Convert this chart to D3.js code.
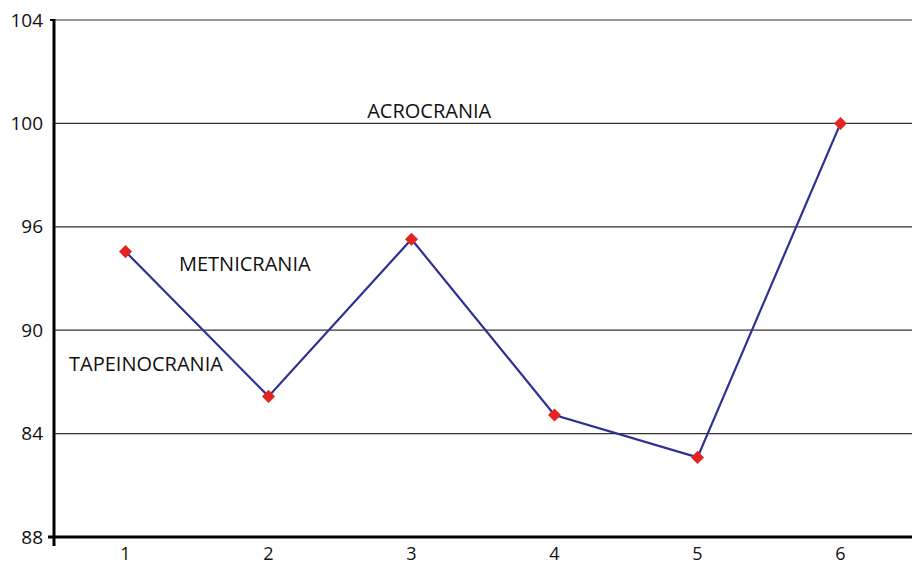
<!DOCTYPE html>
<html><head><meta charset="utf-8">
<script src="https://cdn.jsdelivr.net/npm/d3@7"></script>
<style>body{margin:0;background:#fff}text{font-family:"Open Sans","Noto Sans",sans-serif}</style>
</head><body><svg id="c" width="912" height="565"></svg>
<script>
const categories = ["1","2","3","4","5","6"];
// values expressed in gridline units (0 = bottom gridline, 5 = top gridline)
const values = [2.76, 1.36, 2.88, 1.18, 0.77, 4.0];
const yTickLabels = ["88","84","90","96","100","104"];
const zoneLabels = ["ACROCRANIA","METNICRANIA","TAPEINOCRANIA"];
const zoneLabelPos = [[4.1, 2.19],[2.62, 0.874],[1.66, 0.105]]; // [y unit, x offset in bands]

const svg = d3.select("#c");
const x = d3.scaleBand().domain(categories).range([54, 912]);
const y = d3.scaleLinear().domain([0, 5]).range([537, 20]);

// gridlines
svg.append("g").selectAll("line").data(d3.range(1, 6)).join("line")
  .attr("x1", 54).attr("x2", 912).attr("y1", d => y(d)).attr("y2", d => y(d))
  .attr("stroke", d => d === 5 ? "#777" : "#333").attr("stroke-width", 1.3);

// y axis
const yAxis = d3.axisLeft(y).tickValues(d3.range(0, 6)).tickFormat(d => yTickLabels[d]).tickSize(0).tickPadding(11);
const gy = svg.append("g").attr("transform", "translate(54,0)").call(yAxis);
gy.select(".domain").remove();
gy.attr("font-size", 19).attr("font-family", null);
gy.selectAll("text").attr("fill", "#111");
svg.append("line").attr("x1", 54).attr("x2", 54).attr("y1", y(5) - 1).attr("y2", 546).attr("stroke", "#000").attr("stroke-width", 3);
svg.append("line").attr("x1", 50).attr("x2", 54).attr("y1", y(5)).attr("y2", y(5)).attr("stroke", "#000").attr("stroke-width", 2);
svg.append("line").attr("x1", 48).attr("x2", 912).attr("y1", y(0)).attr("y2", y(0)).attr("stroke", "#000").attr("stroke-width", 3);

// x axis labels
const xAxis = d3.axisBottom(x).tickSize(0).tickPadding(10);
const gx = svg.append("g").attr("transform", "translate(0,537)").call(xAxis);
gx.select(".domain").remove();
gx.attr("font-size", 18).attr("font-family", null);
gx.selectAll("text").attr("fill", "#111");

// zone labels
svg.append("g").selectAll("text").data(zoneLabels).join("text")
  .attr("x", (d, i) => x.range()[0] + x.bandwidth() * zoneLabelPos[i][1])
  .attr("y", (d, i) => y(zoneLabelPos[i][0]))
  .attr("dominant-baseline", "middle")
  .attr("font-size", 20).attr("fill", "#111").text(d => d);

// line
const line = d3.line().x((d, i) => x(categories[i]) + x.bandwidth() / 2).y(d => y(d));
svg.append("path").datum(values).attr("d", line).attr("fill", "none")
  .attr("stroke", "#2e3192").attr("stroke-width", 2.2);

// markers
svg.append("g").selectAll("path").data(values).join("path")
  .attr("d", d3.symbol(d3.symbolSquare, 85))
  .attr("transform", (d, i) => `translate(${x(categories[i]) + x.bandwidth() / 2},${y(d)}) rotate(45)`)
  .attr("fill", "#e52421");
</script></body></html>
